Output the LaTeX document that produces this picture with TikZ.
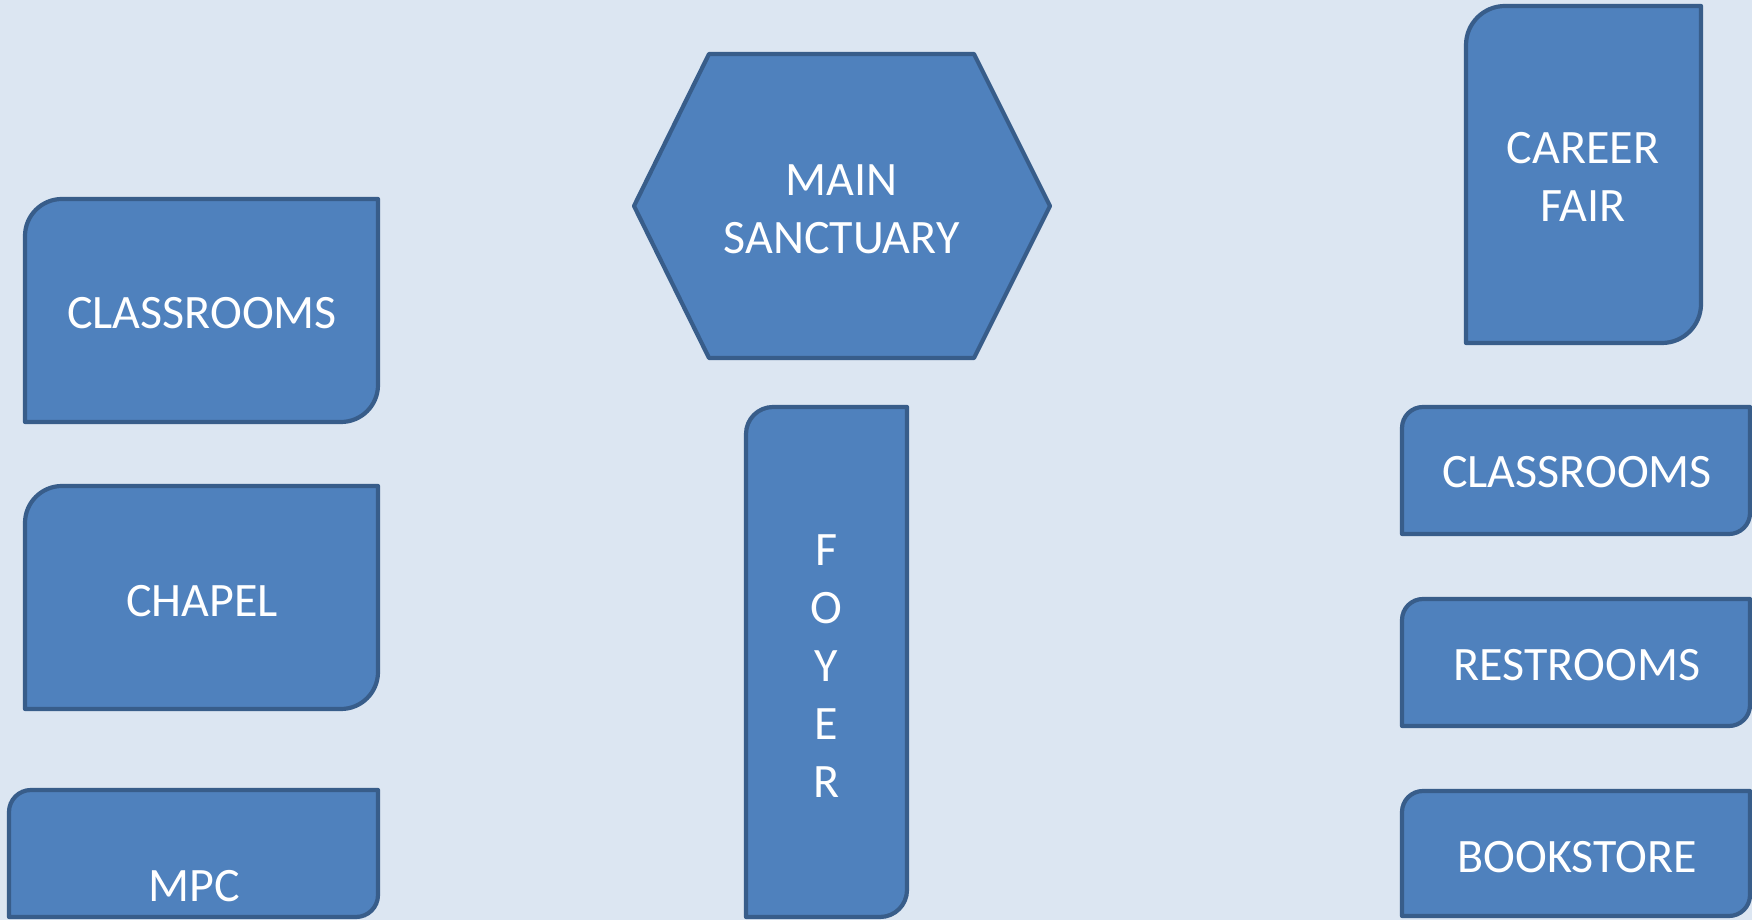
\documentclass[tikz,border=0pt]{standalone}
\usepackage{fontspec}
\setmainfont{Carlito}
\tikzset{
  roomline/.style={draw=roomedge, fill=roomfill, line width=4.2pt, line join=round},
  label/.style={text=white, inner sep=0pt, align=center, font=\fontsize{48}{58}\selectfont}
}
\definecolor{bgcol}{HTML}{DCE6F2}
\definecolor{roomfill}{HTML}{4F81BD}
\definecolor{roomedge}{HTML}{385D8A}
% x1, bottom, x2, top, radius
\newcommand{\roomshape}[5]{%
  \draw[roomline] (#1,#2) -- (#1,#4-#5) arc[start angle=180,end angle=90,radius=#5pt]
    -- (#3,#4) -- (#3,#2+#5) arc[start angle=0,end angle=-90,radius=#5pt] -- cycle;}
\begin{document}
\begin{tikzpicture}[x=1pt,y=1pt]
\fill[bgcol] (0,0) rectangle (1752,920);
\useasboundingbox (0,0) rectangle (1752,920);

% left column
\roomshape{25}{498}{378}{721}{37}
\node[label] (classL) at (202,607) {CLASSROOMS};
\roomshape{25}{211}{378}{434}{37}
\node[label] (chapel) at (202,318.5) {CHAPEL};
\roomshape{9}{3}{378}{130}{22}
\node[label] (mpc) at (194,34) {MPC};

% centre
\draw[roomline] (709,866) -- (974,866) -- (1050,714) -- (974,562) -- (709,562) -- (634,714) -- cycle;
\node[label] (main) at (841.5,710.5) {MAIN\\SANCTUARY};
\roomshape{746}{3}{907}{513}{27}
\node[label] (foyer) at (826.5,254) {F\\O\\Y\\E\\R};

% right column
\roomshape{1466}{577}{1701}{914}{39}
\node[label] (career) at (1583,743.5) {CAREER\\FAIR};
\roomshape{1402}{386}{1750}{513}{21}
\node[label] (classR) at (1577,447.5) {CLASSROOMS};
\roomshape{1402}{194}{1750}{321}{21}
\node[label] (rest) at (1577,255) {RESTROOMS};
\roomshape{1402}{4}{1750}{129}{21}
\node[label] (book) at (1577,62.5) {BOOKSTORE};
\end{tikzpicture}
\end{document}
